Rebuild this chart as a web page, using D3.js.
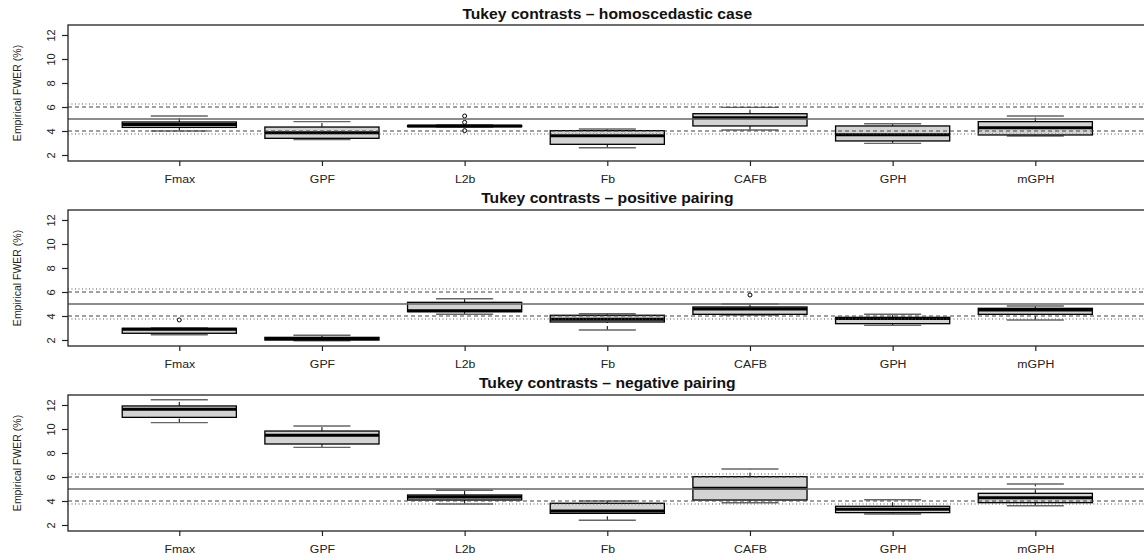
<!DOCTYPE html>
<html><head><meta charset="utf-8">
<script src="https://cdn.jsdelivr.net/npm/d3@7"></script>
<style>body{margin:0;background:#fff}svg{display:block;font-family:"Liberation Sans",Arial,sans-serif}</style>
</head><body>
<svg id="chart" width="1144" height="556"></svg>
<script>
const categories = ["Fmax","GPF","L2b","Fb","CAFB","GPH","mGPH"];
const panelTitles = ["Tukey contrasts \u2013 homoscedastic case","Tukey contrasts \u2013 positive pairing","Tukey contrasts \u2013 negative pairing"];
const yTicks = [2,4,6,8,10,12];
const yLabel = "Empirical FWER (%)";
// [lower whisker, Q1, median, Q3, upper whisker]
const homStats = [[4.0,4.3,4.55,4.75,5.25],[3.28,3.39,3.86,4.33,4.78],[4.33,4.36,4.42,4.46,4.5],[2.61,2.89,3.61,4.03,4.17],[4.08,4.42,5.11,5.44,5.97],[2.97,3.17,3.69,4.42,4.61],[3.58,3.67,4.28,4.78,5.25]];
const homOutliers = [[],[],[5.25,4.72,4.03],[],[],[],[]];
const posStats = [[2.44,2.56,2.89,2.97,3.0],[1.94,2.0,2.1,2.22,2.39],[4.14,4.36,4.44,5.14,5.44],[2.83,3.5,3.72,4.06,4.19],[4.08,4.14,4.58,4.75,5.0],[3.22,3.36,3.8,3.89,4.14],[3.67,4.14,4.5,4.64,4.83]];
const posOutliers = [[3.67],[],[],[],[5.75],[],[]];
const negStats = [[10.53,10.97,11.64,11.92,12.44],[8.47,8.75,9.47,9.83,10.25],[3.75,4.08,4.33,4.5,4.89],[2.39,2.97,3.17,3.81,4.0],[3.86,4.08,5.06,6.03,6.67],[2.92,3.03,3.31,3.56,4.11],[3.61,3.86,4.28,4.64,5.42]];
const negOutliers = [[],[],[],[],[],[],[]];
const refSolid = [5];
const refDashed = [4,6];
const refDotted = [3.75,6.25];

const panels = [
  {title: panelTitles[0], stats: homStats, out: homOutliers},
  {title: panelTitles[1], stats: posStats, out: posOutliers},
  {title: panelTitles[2], stats: negStats, out: negOutliers}
];

const svg = d3.select("#chart");
const W = 1144;
const left = 68, right = 1146.6;
const stretch = 1.12;
const x = d3.scaleLinear().domain([0.22, 7.78]).range([left, right]);
const boxHalf = 0.4, stapleHalf = 0.2;

panels.forEach((p, i) => {
  const oy = i * 185;
  const top = 25 + oy, bottom = 161 + oy;
  const y = d3.scaleLinear().domain([1.5, 12.833]).range([bottom, top]);
  const g = svg.append("g");

  p.stats.forEach((s, j) => {
    const cx = x(j + 1);
    const bx0 = x(j + 1 - boxHalf), bx1 = x(j + 1 + boxHalf);
    const sx0 = x(j + 1 - stapleHalf), sx1 = x(j + 1 + stapleHalf);
    g.append("line").attr("x1", cx).attr("x2", cx).attr("y1", y(s[0])).attr("y2", y(s[1]))
      .attr("stroke", "#000").attr("stroke-width", 1).attr("stroke-dasharray", "4,3");
    g.append("line").attr("x1", cx).attr("x2", cx).attr("y1", y(s[3])).attr("y2", y(s[4]))
      .attr("stroke", "#000").attr("stroke-width", 1).attr("stroke-dasharray", "4,3");
    [s[0], s[4]].forEach(v => g.append("line").attr("x1", sx0).attr("x2", sx1).attr("y1", y(v)).attr("y2", y(v))
      .attr("stroke", "#666").attr("stroke-width", 1.4));
    g.append("rect").attr("x", bx0).attr("width", bx1 - bx0).attr("y", y(s[3])).attr("height", Math.max(0.5, y(s[1]) - y(s[3])))
      .attr("fill", "#d3d3d3").attr("stroke", "#000").attr("stroke-width", 1.3);
    g.append("line").attr("x1", bx0).attr("x2", bx1).attr("y1", y(s[2])).attr("y2", y(s[2]))
      .attr("stroke", "#000").attr("stroke-width", 3);
    p.out[j].forEach(v => g.append("circle").attr("cx", cx).attr("cy", y(v)).attr("r", 2)
      .attr("fill", "none").attr("stroke", "#000").attr("stroke-width", 1));
  });

  refSolid.forEach(v => g.append("line").attr("x1", left).attr("x2", W).attr("y1", y(v)).attr("y2", y(v))
    .attr("stroke", "#666").attr("stroke-width", 1.3));
  refDashed.forEach(v => g.append("line").attr("x1", left).attr("x2", W).attr("y1", y(v)).attr("y2", y(v))
    .attr("stroke", "#444").attr("stroke-width", 1.1).attr("stroke-dasharray", "4,3"));
  refDotted.forEach(v => g.append("line").attr("x1", left).attr("x2", W).attr("y1", y(v)).attr("y2", y(v))
    .attr("stroke", "#555").attr("stroke-width", 1).attr("stroke-dasharray", "1,2.5"));

  g.append("rect").attr("x", left).attr("y", top).attr("width", right - left).attr("height", bottom - top)
    .attr("fill", "none").attr("stroke", "#222").attr("stroke-width", 1.3);

  const ya = g.append("g").attr("transform", `translate(${left},0)`)
    .call(d3.axisLeft(y).tickValues(yTicks).tickSize(6).tickPadding(0).tickFormat(d3.format("d")));
  ya.select(".domain").remove();
  ya.selectAll(".tick line").attr("stroke", "#222").attr("stroke-width", 1.2);
  ya.selectAll(".tick text").attr("transform", "rotate(-90)").attr("x", 0).attr("y", -13)
    .attr("dy", 0).attr("text-anchor", "middle").attr("font-size", 11).attr("fill", "#222")
    .attr("font-family", "Liberation Sans, Arial, sans-serif");

  const xa = g.append("g").attr("transform", `translate(0,${bottom})`)
    .call(d3.axisBottom(x).tickValues(d3.range(1, categories.length + 1)).tickSize(5).tickPadding(9)
      .tickFormat(d => categories[d - 1]));
  xa.select(".domain").remove();
  xa.selectAll(".tick line").attr("stroke", "#222").attr("stroke-width", 1.2);
  xa.selectAll(".tick text").attr("font-size", 11).attr("fill", "#222")
    .attr("transform", `scale(${stretch},1)`)
    .attr("font-family", "Liberation Sans, Arial, sans-serif");

  g.append("text").attr("transform", `translate(21,${(top + bottom) / 2}) rotate(-90)`)
    .attr("text-anchor", "middle").attr("font-size", 10.5).attr("fill", "#222").text(yLabel);

  g.append("text").attr("transform", `translate(${(left + right) / 2},${oy + 18.5 - (i > 0 ? 0.7 : 0)}) scale(${stretch},1)`)
    .attr("text-anchor", "middle").attr("font-size", 14).attr("font-weight", "bold").attr("fill", "#111").text(p.title);
});
</script>
</body></html>
